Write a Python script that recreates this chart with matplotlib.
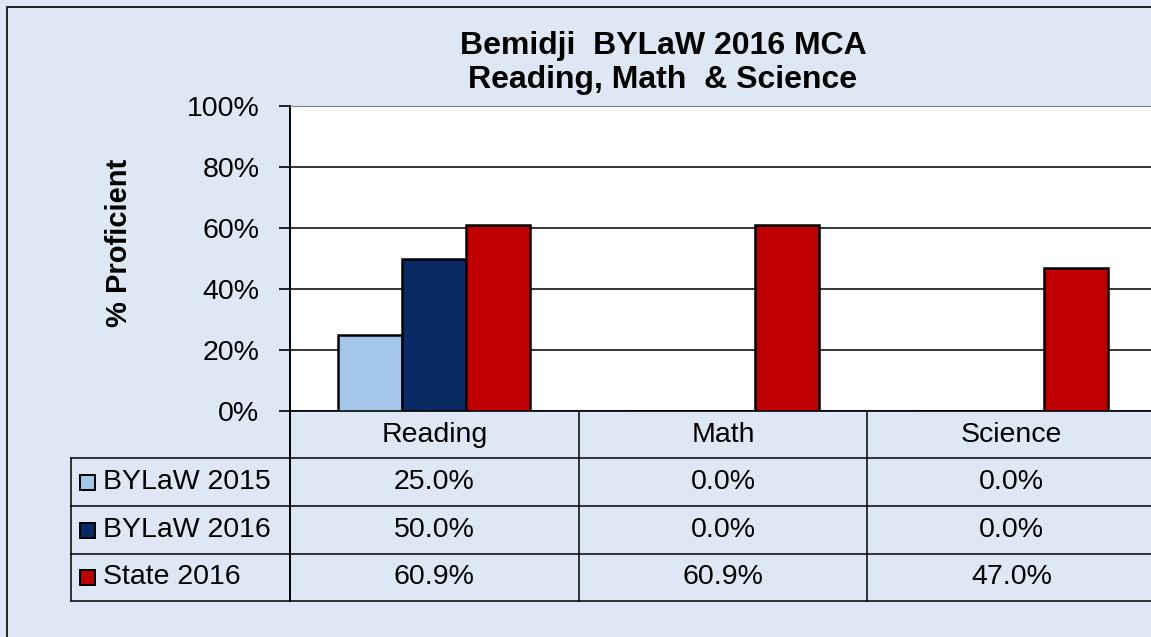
import matplotlib.pyplot as plt
import numpy as np
from matplotlib.patches import Rectangle
from matplotlib.transforms import blended_transform_factory

categories = ['Reading', 'Math', 'Science']
series_names = ['BYLaW 2015', 'BYLaW 2016', 'State 2016']
bylaw_2015 = [25.0, 0.0, 0.0]
bylaw_2016 = [50.0, 0.0, 0.0]
state_2016 = [60.9, 60.9, 47.0]
y_ticks = [0, 20, 40, 60, 80, 100]

series = [bylaw_2015, bylaw_2016, state_2016]
colors = ['#a3c6e9', '#0a2a66', '#c00000']
bg = '#dde8f4'

plt.rcParams['font.family'] = ['Liberation Sans', 'DejaVu Sans']

W, H = 1151, 637
fig = plt.figure(figsize=(W / 100, H / 100), dpi=100)
fig.patch.set_facecolor(bg)

# outer frame (runs off the right/bottom edge)
fig.patches.append(Rectangle((7 / W, -0.1), 1.2, 1 - 7 / H + 0.1, transform=fig.transFigure,
                             fill=False, edgecolor='black', linewidth=1.2))

left_px, right_px, top_px, bot_px = 290, 1156, 106, 411
ax = fig.add_axes([left_px / W, 1 - bot_px / H, (right_px - left_px) / W, (bot_px - top_px) / H])
ax.set_facecolor('white')

x = np.arange(len(categories))
bar_width = 0.222
for i, vals in enumerate(series):
    ax.bar(x + (i - 1) * bar_width, vals, bar_width, color=colors[i], edgecolor='black',
           linewidth=1.8, zorder=3)

ax.set_xlim(-0.5, len(categories) - 0.5)
ax.set_ylim(0, 100)
ax.set_yticks(y_ticks)
ax.set_yticklabels([f'{t}%' for t in y_ticks], fontsize=20.5)
ax.tick_params(axis='y', direction='out', length=8, width=1.2, pad=14)
ax.set_xticks([])
ax.grid(axis='y', color='black', linewidth=1.1, zorder=0)
ax.spines['left'].set_linewidth(1.4)
ax.spines['top'].set_color('#808080')
ax.spines['right'].set_visible(False)
ax.spines['bottom'].set_linewidth(1.2)
ax.set_ylabel('% Proficient', fontsize=21, fontweight='bold')
ax.yaxis.set_label_coords((133 - left_px) / (right_px - left_px), 0.55)

fig.text(663 / W, 1 - 63 / H, 'Bemidji  BYLaW 2016 MCA\nReading, Math  & Science',
         ha='center', va='center', fontsize=23, fontweight='bold', linespacing=1.2)

# data table under the axes
ax_h = bot_px - top_px
def ay(py):
    return (bot_px - py) / ax_h

row_lines = [458, 506, 554, 601]
trans = blended_transform_factory(ax.transData, ax.transAxes)
label_left = (71 - left_px) / (right_px - left_px)

for py in row_lines:
    ax.plot([label_left, 1.0], [ay(py)] * 2, color='black', linewidth=1.1,
            transform=ax.transAxes, clip_on=False)
ax.plot([label_left] * 2, [ay(row_lines[0]), ay(row_lines[-1])], color='black',
        linewidth=1.1, transform=ax.transAxes, clip_on=False)
ax.plot([0, 0], [0, ay(row_lines[-1])], color='black', linewidth=1.4,
        transform=ax.transAxes, clip_on=False)
for b in x[:-1] + 0.5:
    ax.plot([b, b], [0, ay(row_lines[-1])], color='black', linewidth=1.1,
            transform=trans, clip_on=False)

for xi, cat in zip(x, categories):
    ax.text(xi, ay((bot_px + row_lines[0]) / 2), cat, ha='center', va='center',
            fontsize=20.5, transform=trans, clip_on=False)

for r, (name, vals) in enumerate(zip(series_names, series)):
    yc = ay((row_lines[r] + row_lines[r + 1]) / 2)
    for xi, v in zip(x, vals):
        ax.text(xi, yc, f'{v:.1f}%', ha='center', va='center', fontsize=20.5,
                transform=trans, clip_on=False)
    ax.text((103 - left_px) / (right_px - left_px), yc, name, ha='left', va='center',
            fontsize=20.5, transform=ax.transAxes, clip_on=False)
    sq = 15
    fig.patches.append(Rectangle((80 / W, 1 - (row_lines[r] + row_lines[r + 1]) / 2 / H - sq / 2 / H),
                                 sq / W, sq / H, transform=fig.transFigure,
                                 facecolor=colors[r], edgecolor='black', linewidth=1.4))

fig.savefig('out.png', dpi=100, facecolor=bg)
